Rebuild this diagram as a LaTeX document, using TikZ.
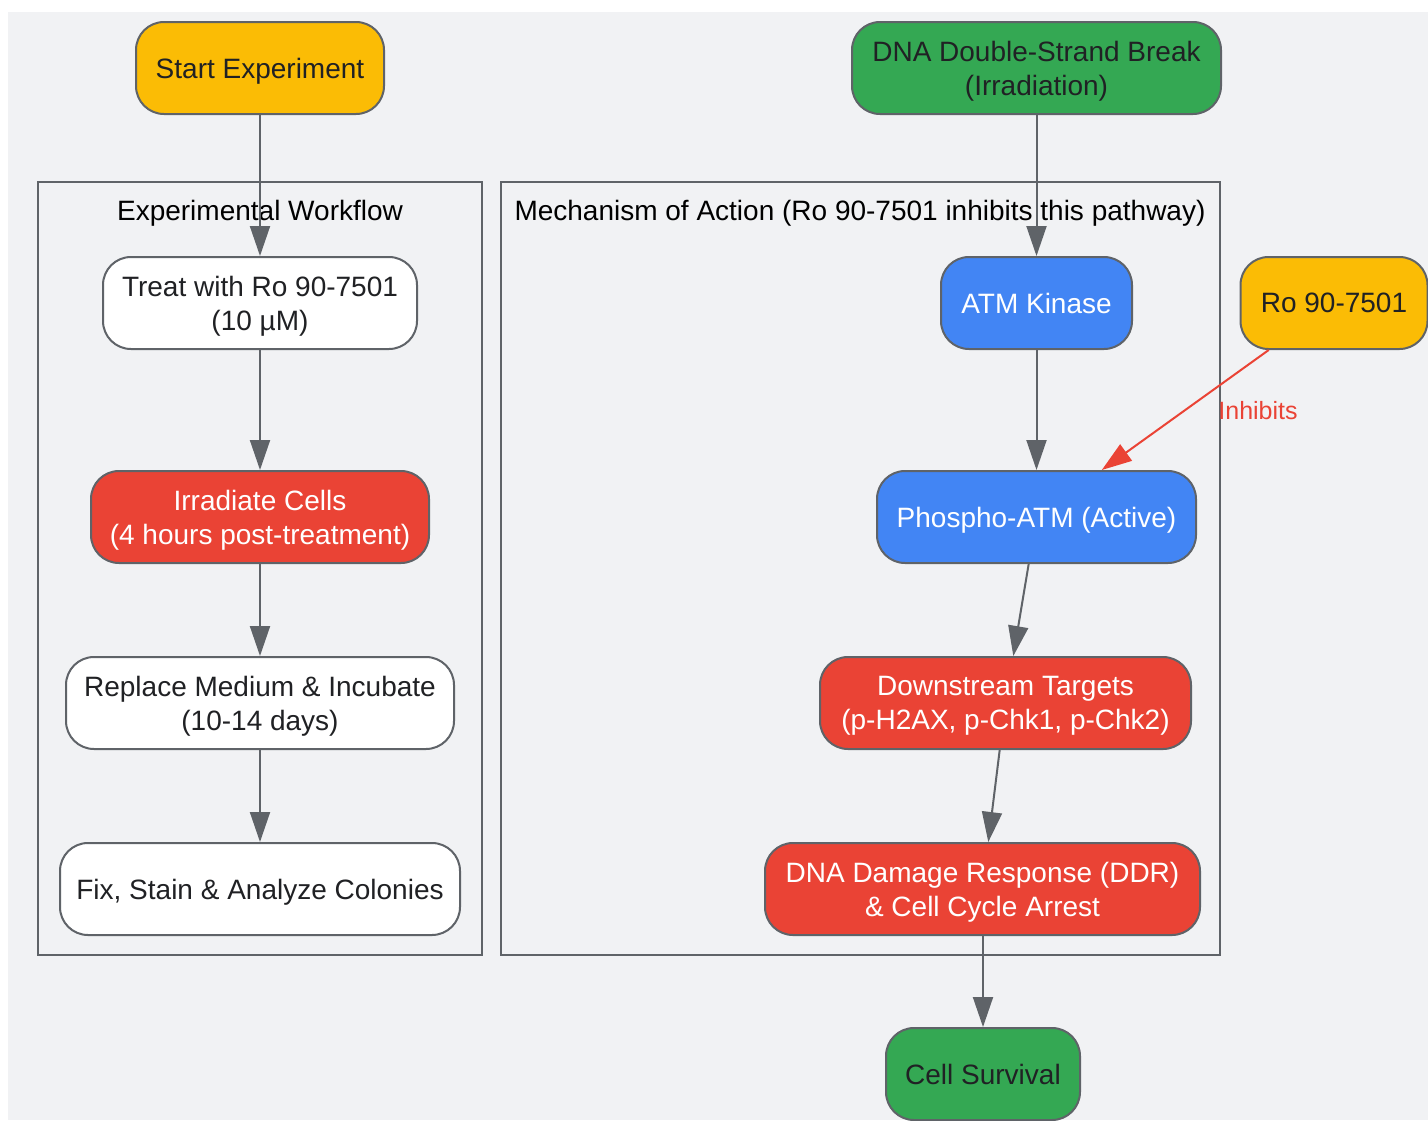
\documentclass[tikz,border=0pt]{standalone}
\usepackage{fontspec}
\setmainfont{Liberation Sans}
\usetikzlibrary{arrows.meta}
\definecolor{bgc}{HTML}{F1F2F4}
\definecolor{edgec}{HTML}{5F6368}
\definecolor{gyellow}{HTML}{FBBC05}
\definecolor{ggreen}{HTML}{34A853}
\definecolor{gblue}{HTML}{4285F4}
\definecolor{gred}{HTML}{EA4335}
\definecolor{txt}{HTML}{202124}
\tikzset{
  box/.style={draw=edgec, line width=2pt, rounded corners=28pt, align=center,
    font=\fontsize{28}{34}\selectfont, text=txt, inner sep=0pt, minimum height=92pt,
    text depth=0pt},
  ybox/.style={box, fill=gyellow},
  gbox/.style={box, fill=ggreen},
  bbox/.style={box, fill=gblue, text=white},
  rbox/.style={box, fill=gred, text=white},
  wbox/.style={box, fill=white},
  cluster/.style={draw=edgec, line width=2pt},
  clabel/.style={font=\fontsize{28}{34}\selectfont, text=black, text depth=0pt},
  flow/.style={draw=edgec, line width=2pt, -{Triangle[length=30pt,width=20pt]}},
  inh/.style={draw=gred, line width=2pt, -{Triangle[length=30pt,width=20pt]}},
}
\begin{document}
\begin{tikzpicture}[x=1pt,y=-1pt]
\useasboundingbox (0,0) rectangle (1428,1120);
\fill[bgc] (8,12) rectangle (1428,1120);
% clusters
\draw[cluster] (38,182) rectangle (482,955);
\node[clabel] (cl1) at (260,210) {Experimental Workflow};
\draw[cluster] (501,182) rectangle (1220,955);
\node[clabel] (cl2) at (860,210) {Mechanism of Action (Ro 90-7501 inhibits this pathway)};
% nodes
\node[ybox, minimum width=248pt] (start) at (260,68) {Start Experiment};
\node[gbox, minimum width=369pt] (dsb) at (1036.5,68) {DNA Double-Strand Break\\(Irradiation)};
\node[wbox, minimum width=314pt] (treat) at (260,303) {Treat with Ro 90-7501\\(10 µM)};
\node[rbox, minimum width=338pt] (irr) at (260,517) {Irradiate Cells\\(4 hours post-treatment)};
\node[wbox, minimum width=388pt] (rep) at (260,703) {Replace Medium \& Incubate\\(10-14 days)};
\node[wbox, minimum width=400pt] (fix) at (260,889) {Fix, Stain \& Analyze Colonies};
\node[bbox, minimum width=191pt] (atm) at (1036.5,303) {ATM Kinase};
\node[ybox, minimum width=187pt] (ro) at (1334,303) {Ro 90-7501};
\node[bbox, minimum width=319pt] (patm) at (1036.5,517) {Phospho-ATM (Active)};
\node[rbox, minimum width=371pt] (down) at (1005.5,703) {Downstream Targets\\(p-H2AX, p-Chk1, p-Chk2)};
\node[rbox, minimum width=435pt] (ddr) at (982.5,889) {DNA Damage Response (DDR)\\\& Cell Cycle Arrest};
\node[gbox, minimum width=194pt] (surv) at (983,1074) {Cell Survival};
% edges
\draw[flow] (start) -- (treat);
\draw[flow] (treat) -- (irr);
\draw[flow] (irr) -- (rep);
\draw[flow] (rep) -- (fix);
\draw[flow] (dsb) -- (atm);
\draw[flow] (atm) -- (patm);
\draw[flow] (patm) -- (down);
\draw[flow] (down) -- (ddr);
\draw[flow] (ddr.south -| surv) -- (surv);
\draw[inh] (ro) -- (patm);
\node[font=\fontsize{25}{30}\selectfont, text=gred] (inhl) at (1258,411) {Inhibits};
\end{tikzpicture}
\end{document}
